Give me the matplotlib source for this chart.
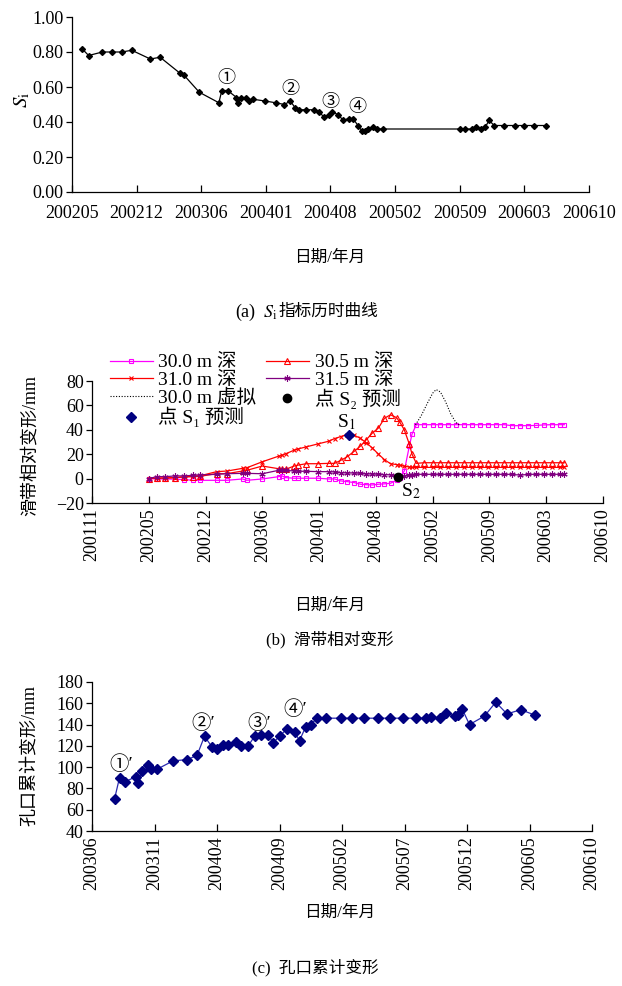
import matplotlib
matplotlib.use("Agg")
import matplotlib.pyplot as plt

plt.rcParams['font.family'] = ['Liberation Serif', 'Noto Sans CJK SC', 'DejaVu Serif']
plt.rcParams['mathtext.fontset'] = 'stix'
plt.rcParams['axes.unicode_minus'] = True

# x values are months counted from 2002-01 (0 = start of Jan 2002)

# (a) Si index
a_x = [5.6, 6.3, 7.7, 8.7, 9.7, 10.7, 12.6, 13.6, 15.6, 16.0, 17.6, 19.6, 19.9, 20.5,
       21.4, 21.6, 21.9, 22.4, 22.7, 23.1, 24.3, 25.4, 26.3, 26.9, 27.4, 27.8, 28.5,
       29.3, 29.8, 30.3, 30.8, 31.2, 31.8, 32.3, 32.9, 33.3, 33.8, 34.2, 34.5, 34.8,
       35.3, 35.8, 36.4, 44.2, 44.7, 45.5, 45.9, 46.4, 46.8, 47.2, 47.7, 48.7, 49.8,
       50.8, 51.8, 53.0]
a_y = [0.82, 0.78, 0.80, 0.80, 0.80, 0.81, 0.76, 0.77, 0.68, 0.67, 0.57, 0.51, 0.58, 0.58,
       0.54, 0.51, 0.54, 0.54, 0.52, 0.53, 0.52, 0.51, 0.50, 0.52, 0.48, 0.47, 0.47,
       0.47, 0.46, 0.43, 0.44, 0.46, 0.44, 0.41, 0.42, 0.42, 0.38, 0.35, 0.35, 0.36,
       0.37, 0.36, 0.36, 0.36, 0.36, 0.36, 0.37, 0.36, 0.37, 0.41, 0.38, 0.38, 0.38,
       0.38, 0.38, 0.38]
a_marks = ['①', '②', '③', '④']
a_mark_x = [20.4, 26.9, 31.0, 33.7]
a_mark_y = [0.65, 0.59, 0.515, 0.485]
a_ticks = ['200205', '200212', '200306', '200401', '200408', '200502', '200509', '200603', '200610']

# (b) relative deformation of slip zone, mm
b_x = [4.6, 5.5, 6.5, 7.7, 8.7, 9.7, 10.6, 12.5, 13.7, 15.5, 16.0, 17.8, 19.7, 20.1, 20.5,
       21.5, 22.0, 22.9, 24.3, 25.5, 26.2, 26.9, 27.6, 28.5, 29.2, 29.9, 30.6, 31.3, 32.0,
       32.7, 33.4, 33.8, 34.3, 34.9, 35.2, 35.7, 36.6, 37.6, 38.5, 39.4, 40.3, 41.3, 42.2,
       43.1, 44.0, 45.0, 45.9, 46.8, 47.8, 48.7, 49.6, 50.5, 51.5, 52.4, 52.9]
d300 = [0, -0.3, -0.3, -0.5, -0.8, -1.4, -1.4, -1.4, -1.4, -0.3, -1.4, -0.3, 1.6, 2.2, 0.8,
        0.3, 0.3, 0.3, 0.3, -0.3, -0.3, -1.9, -2.4, -3.3, -4.6, -5.0, -5.2, -4.6, -4.3,
        -3.8, -1.4, 0.8, 6.2, 27.0, 36.5, 44.2, 44.2, 44.2, 44.2, 44.2, 44.2, 44.2, 44.2,
        44.2, 44.2, 44.2, 44.2, 43.4, 43.4, 43.4, 43.6, 44.0, 44.2, 44.2, 44.2]
d305 = [0, 0.3, 0.5, 0.8, 1.4, 1.6, 1.9, 4.1, 4.1, 6.2, 6.8, 10.3, 8.1, 7.6, 7.6,
        10.3, 11.1, 12.2, 12.2, 12.5, 12.5, 14.9, 17.6, 22.5, 26.6, 32.0, 37.4, 41.5, 49.5,
        52.3, 50.0, 46.0, 40.0, 28.0, 20.0, 12.5, 13.0, 13.0, 13.0, 13.0, 13.0, 13.0, 13.0,
        13.0, 13.0, 13.0, 13.0, 13.0, 13.0, 13.0, 13.0, 13.0, 13.0, 13.0, 13.0]
d310 = [0, 0.3, 0.5, 0.8, 1.4, 1.9, 2.4, 5.7, 6.2, 8.4, 8.9, 13.8, 18.4, 19.2, 20.3,
        23.3, 24.4, 26.0, 28.5, 30.6, 32.8, 34.4, 36.1, 35.5, 33.0, 29.3, 25.0, 20.0, 15.5,
        12.2, 11.5, 11.0, 10.2, 9.5, 9.2, 9.2, 9.2, 9.2, 9.2, 9.2, 9.2, 9.2, 9.2,
        9.2, 9.2, 9.2, 9.2, 9.2, 9.2, 9.2, 9.2, 9.2, 9.2, 9.2, 9.2]
d315 = [0, 1.6, 1.6, 2.2, 2.2, 2.7, 3.0, 3.5, 4.0, 4.3, 4.3, 4.0, 6.8, 7.3, 6.8,
        6.2, 6.0, 6.0, 5.7, 5.7, 5.4, 4.9, 4.6, 4.6, 4.3, 3.8, 3.8, 3.5, 3.3,
        3.0, 2.4, 1.9, 2.2, 3.0, 3.3, 3.5, 3.5, 3.5, 3.5, 3.5, 3.5, 3.5, 3.5,
        3.5, 3.5, 3.5, 3.5, 3.5, 2.8, 3.5, 3.5, 3.5, 3.5, 3.5, 3.5]
virt_x = [35.6, 36.3, 37.0, 37.6, 38.0, 38.5, 39.1, 39.7, 40.3, 40.7]
virt_y = [44, 52, 62, 70, 73, 71, 63, 53, 46, 44]
s1_x, s1_y = 27.9, 35.8
s2_x, s2_y = 33.6, 1.6
b_names = ['30.0 m 深', '31.0 m 深', '30.0 m 虚拟', '点 S₁ 预测',
           '30.5 m 深', '31.5 m 深', '点 S₂ 预测']
b_ticks = ['200111', '200205', '200212', '200306', '200401', '200408', '200502',
           '200509', '200603', '200610']

# (c) cumulative deformation at borehole mouth, mm
c_x = [19.3, 19.7, 20.1, 21.0, 21.2, 21.5, 22.0, 22.2, 22.7, 24.0, 25.1, 25.9, 26.5, 27.1,
       27.5, 28.0, 28.4, 29.0, 29.4, 30.0, 30.5, 31.0, 31.6, 32.0, 32.5, 33.1, 33.7, 34.1,
       34.6, 35.0, 35.5, 36.2, 37.4, 38.3, 39.3, 40.4, 41.3, 42.4, 43.4, 44.2, 44.6, 45.3,
       45.8, 46.5, 46.8, 47.1, 47.7, 48.9, 49.8, 50.7, 51.8, 52.9]
c_y = [70, 90, 86, 91, 85, 96, 102, 98, 98, 106, 107, 111, 129, 119,
       117, 121, 121, 124, 120, 120, 129, 130, 130, 123, 129, 136, 133, 125,
       138, 140, 146, 146, 146, 146, 146, 146, 146, 146, 146, 146, 147, 146,
       151, 148, 149, 155, 140, 148, 161, 150, 154, 149]
c_marks = ['①′', '②′', '③′', '④′']
c_mark_x = [19.8, 26.4, 30.9, 33.8]
c_mark_y = [102, 141, 141, 154]
c_ticks = ['200306', '200311', '200404', '200409', '200502', '200507', '200512',
           '200605', '200610']

W, H = 622, 986
fig = plt.figure(figsize=(W / 100, H / 100), dpi=100)


def box(l, t, r, b):
    return [l / W, 1 - b / H, (r - l) / W, (b - t) / H]


def style(ax, xpad=4):
    for s in ['top', 'right']:
        ax.spines[s].set_visible(False)
    for s in ['left', 'bottom']:
        ax.spines[s].set_linewidth(0.9)
    ax.tick_params(axis='y', direction='out', length=4, width=0.9, labelsize=13, pad=2)
    ax.tick_params(axis='x', direction='in', length=5, width=0.9, labelsize=13, pad=xpad)


# ---- (a)
ax1 = fig.add_axes(box(72, 17, 589, 192))
ax1.plot(a_x, a_y, color='black', lw=0.9, marker='D', ms=3, mfc='black', mec='black')
for t, x, y in zip(a_marks, a_mark_x, a_mark_y):
    ax1.text(x, y, t, ha='center', va='center', fontsize=13, family=['Noto Sans CJK SC'])
ax1.set_xlim(4.6, 4.6 + 6.6 * 8)
ax1.set_ylim(0, 1)
ax1.set_xticks([4.6 + 6.6 * i for i in range(len(a_ticks))])
ax1.set_xticklabels(a_ticks)
ax1.set_yticks([0, 0.2, 0.4, 0.6, 0.8, 1.0])
ax1.set_yticklabels(['%.2f' % v for v in [0, 0.2, 0.4, 0.6, 0.8, 1.0]])
style(ax1, xpad=9)
fig.text(22 / W, 1 - 100 / H, r'$S_{\mathrm{i}}$', rotation=90, ha='center', va='center', fontsize=15)
fig.text(330 / W, 1 - 258 / H, '日期/年月', ha='center', va='center', fontsize=12)
fig.text(278 / W, 1 - 312 / H, r'(a)  $S_{\mathrm{i}}$', ha='right', va='center', fontsize=13)
fig.text(278 / W, 1 - 312 / H, '指标历时曲线', ha='left', va='center', fontsize=12)

# ---- (b)
ax2 = fig.add_axes(box(92, 381, 603, 503))
ms = 3.5
l300, = ax2.plot(b_x, d300, color='#FF00FF', lw=0.9, marker='s', ms=ms, mfc='none', mew=0.8)
l305, = ax2.plot(b_x, d305, color='#FF0000', lw=0.9, marker='^', ms=ms + 0.5, mfc='none', mew=0.8)
l310, = ax2.plot(b_x, d310, color='#FF0000', lw=0.9, marker='x', ms=ms, mew=0.8)
l315, = ax2.plot(b_x, d315, color='#800080', lw=0.9, marker=(6, 2, 0), ms=ms + 1, mew=0.8)
lv, = ax2.plot(virt_x, virt_y, color='black', lw=0.8, ls=(0, (1, 1.5)))
p1, = ax2.plot([s1_x], [s1_y], ls='none', marker='D', ms=5, color='#000080')
p2, = ax2.plot([s2_x], [s2_y], ls='none', marker='o', ms=6, color='black')
ax2.text(s1_x - 0.4, s1_y + 2.5, r'S$_1$', ha='center', va='bottom', fontsize=14)
ax2.text(s2_x + 0.3, s2_y - 4, r'S$_2$', ha='left', va='top', fontsize=14)
ax2.set_xlim(-2.0, -2.0 + 6.6 * 9)
ax2.set_ylim(-20, 80)
ax2.set_xticks([-2.0 + 6.6 * i for i in range(len(b_ticks))])
ax2.set_xticklabels(b_ticks, rotation=90)
ax2.set_yticks(range(-20, 81, 20))
style(ax2)
fig.legend([l300, l310, lv, p1, l305, l315, p2], b_names,
           ncol=2, loc='upper left', bbox_to_anchor=(100 / W, 1 - 344 / H), frameon=False,
           fontsize=14, handlelength=2.2, handletextpad=0.3, labelspacing=0.0,
           columnspacing=0.5, borderpad=0)
fig.text(30 / W, 1 - 446 / H, '滑带相对变形/mm', rotation=90, ha='center', va='center', fontsize=13)
fig.text(330 / W, 1 - 606 / H, '日期/年月', ha='center', va='center', fontsize=12)
fig.text(330 / W, 1 - 640 / H, '(b)  滑带相对变形', ha='center', va='center', fontsize=12)

# ---- (c)
ax3 = fig.add_axes(box(92, 682, 592, 831))
ax3.plot(c_x, c_y, color='#2a2ab0', lw=0.9, marker='D', ms=5, mfc='#000080', mec='#000080')
for t, x, y in zip(c_marks, c_mark_x, c_mark_y):
    ax3.text(x, y, t, ha='center', va='center', fontsize=14)
ax3.set_xlim(17.5, 17.5 + 5 * 8)
ax3.set_ylim(40, 180)
ax3.set_xticks([17.5 + 5 * i for i in range(len(c_ticks))])
ax3.set_xticklabels(c_ticks, rotation=90)
ax3.set_yticks(range(40, 181, 20))
style(ax3)
fig.text(30 / W, 1 - 756 / H, '孔口累计变形/mm', rotation=90, ha='center', va='center', fontsize=13)
fig.text(340 / W, 1 - 913 / H, '日期/年月', ha='center', va='center', fontsize=12)
fig.text(315 / W, 1 - 968 / H, '(c)  孔口累计变形', ha='center', va='center', fontsize=12)

fig.savefig('out.png', dpi=100)
